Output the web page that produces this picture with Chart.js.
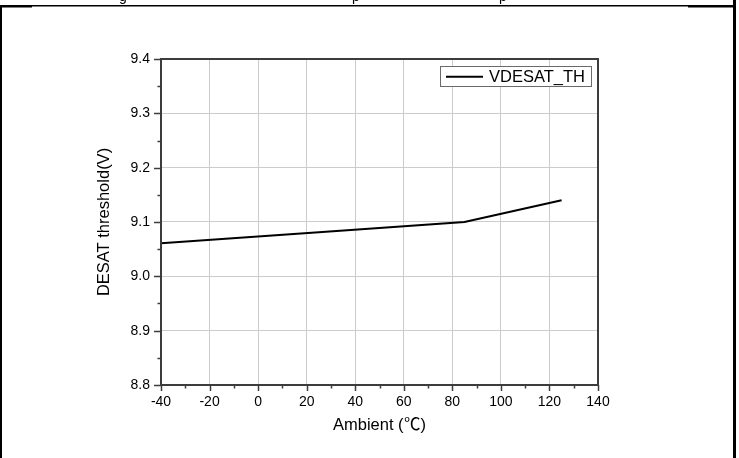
<!DOCTYPE html>
<html>
<head>
<meta charset="utf-8">
<script src="https://cdn.jsdelivr.net/npm/chart.js@4.4.1/dist/chart.umd.min.js"></script>
<style>
  @font-face {
    font-family: 'CJKsym';
    src: local('Noto Sans CJK SC'), local('Noto Sans CJK SC Regular'), local('NotoSansCJKsc-Regular'), local('Noto Sans CJK JP'), local('Noto Sans CJK JP Regular');
    unicode-range: U+2103;
  }
  html, body { margin: 0; padding: 0; background: #fff; }
  #wrap { width: 739px; height: 458px; position: relative; }
</style>
</head>
<body>
<div id="wrap"><canvas id="c" width="739" height="458"></canvas></div>
<script>
// ---- data ----
const temperatures = [-40, 25, 85, 125];
const vdesatTh = [9.061, 9.081, 9.100, 9.140];
const seriesLabel = 'VDESAT_TH';
const xTitle = 'Ambient (\u2103)';
const yTitle = 'DESAT threshold(V)';
const xRange = [-40, 140];
const yRange = [8.8, 9.4];

const FONT = "CJKsym, 'Liberation Sans', Arial, 'Noto Sans CJK SC', sans-serif";
const AXIS = '#3c3c3c';

const framePlugin = {
  id: 'frame',
  afterDraw(chart) {
    const { ctx, chartArea: a, scales } = chart;
    const xs = scales.x, ys = scales.y;
    ctx.save();
    ctx.strokeStyle = AXIS;
    ctx.lineWidth = 2;
    ctx.strokeRect(a.left, a.top, a.right - a.left, a.bottom - a.top);
    ctx.lineWidth = 1.5;
    for (let v = xRange[0]; v <= xRange[1] + 1e-9; v += 10) {
      const px = Math.round(xs.getPixelForValue(v)) + 0.5;
      const major = Math.abs(v % 20) < 1e-9;
      ctx.beginPath();
      ctx.moveTo(px, a.bottom);
      ctx.lineTo(px, a.bottom + (major ? 6 : 3.5));
      ctx.stroke();
    }
    for (let i = 0; i <= 12; i++) {
      const v = yRange[0] + i * 0.05;
      const py = Math.round(ys.getPixelForValue(v)) + 0.5;
      const major = i % 2 === 0;
      ctx.beginPath();
      ctx.moveTo(a.left, py);
      ctx.lineTo(a.left - (major ? 7 : 3.5), py);
      ctx.stroke();
    }
    // legend box inside plot (top-right)
    const lx = 440.5, ly = 66.5, lw = 151, lh = 20;
    ctx.fillStyle = '#fff';
    ctx.fillRect(lx, ly, lw, lh);
    ctx.strokeStyle = '#6a6a6a';
    ctx.lineWidth = 1;
    ctx.strokeRect(lx, ly, lw, lh);
    ctx.strokeStyle = '#000';
    ctx.lineWidth = 2;
    ctx.beginPath();
    ctx.moveTo(446, 76.7);
    ctx.lineTo(483, 76.7);
    ctx.stroke();
    ctx.fillStyle = '#000';
    ctx.font = '16.5px ' + FONT;
    ctx.textBaseline = 'middle';
    ctx.textAlign = 'left';
    ctx.fillText(chart.data.datasets[0].label, 489, 77);
    // outer document borders
    ctx.fillStyle = '#000';
    ctx.fillRect(0, 5, 735, 1.5);
    ctx.fillRect(0, 5, 32, 2.5);
    ctx.fillRect(688, 5, 46, 2.5);
    ctx.fillRect(0, 5, 2, 453);
    ctx.fillRect(733, 0, 3, 458);
    // cut-off caption descenders above the top border
    ctx.font = '14px ' + FONT;
    ctx.textBaseline = 'alphabetic';
    ctx.fillText('g', 119, 1);
    ctx.fillText('p', 352, 1);
    ctx.fillText('p', 499, 1);
    ctx.restore();
  }
};

function draw() {
  new Chart(document.getElementById('c'), {
    type: 'line',
    data: {
      labels: temperatures,
      datasets: [{
        label: seriesLabel,
        data: temperatures.map((t, i) => ({ x: t, y: vdesatTh[i] })),
        borderColor: '#000',
        borderWidth: 2,
        pointRadius: 0,
        tension: 0,
        fill: false
      }]
    },
    options: {
      responsive: false,
      animation: false,
      devicePixelRatio: 1,
      layout: { padding: { top: 59, right: 141, left: 0, bottom: 0 } },
      plugins: { legend: { display: false }, tooltip: { enabled: false } },
      scales: {
        x: {
          type: 'linear',
          min: xRange[0], max: xRange[1],
          afterFit(s) { s.height = 73; },
          border: { display: false },
          grid: { color: '#cccccc', lineWidth: 1, drawTicks: false },
          ticks: { stepSize: 20, padding: 9, color: '#000', font: { family: FONT, size: 14 } },
          title: { display: true, text: xTitle, color: '#000', font: { family: FONT, size: 16.5 }, padding: { bottom: 23 } }
        },
        y: {
          type: 'linear',
          min: yRange[0], max: yRange[1],
          afterFit(s) { s.width = 161; },
          border: { display: false },
          grid: { color: '#cccccc', lineWidth: 1, drawTicks: false },
          ticks: { stepSize: 0.1, padding: 11, color: '#000', font: { family: FONT, size: 14 },
                   callback: v => Number(v).toFixed(1) },
          title: { display: true, text: yTitle, color: '#000', font: { family: FONT, size: 16.5 }, padding: { top: 95 } }
        }
      }
    },
    plugins: [framePlugin]
  });
}

const ready = document.fonts && document.fonts.load
  ? document.fonts.load('16px CJKsym', '\u2103').catch(() => null)
  : Promise.resolve();
ready.then(draw, draw);
</script>
</body>
</html>
